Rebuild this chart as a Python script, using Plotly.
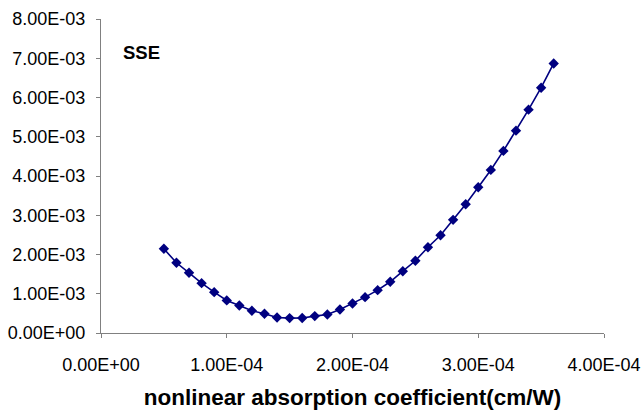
import plotly.graph_objects as go

# Nonlinear absorption coefficient (cm/W) and sum of squared errors
beta = [0.5e-4, 0.6e-4, 0.7e-4, 0.8e-4, 0.9e-4, 1.0e-4, 1.1e-4, 1.2e-4,
        1.3e-4, 1.4e-4, 1.5e-4, 1.6e-4, 1.7e-4, 1.8e-4, 1.9e-4, 2.0e-4,
        2.1e-4, 2.2e-4, 2.3e-4, 2.4e-4, 2.5e-4, 2.6e-4, 2.7e-4, 2.8e-4,
        2.9e-4, 3.0e-4, 3.1e-4, 3.2e-4, 3.3e-4, 3.4e-4, 3.5e-4, 3.6e-4]
sse = [2.145e-3, 1.789e-3, 1.534e-3, 1.270e-3, 1.041e-3, 0.830e-3, 0.702e-3, 0.567e-3,
       0.491e-3, 0.395e-3, 0.380e-3, 0.382e-3, 0.430e-3, 0.473e-3, 0.600e-3, 0.753e-3,
       0.913e-3, 1.092e-3, 1.305e-3, 1.575e-3, 1.840e-3, 2.186e-3, 2.491e-3, 2.883e-3,
       3.280e-3, 3.712e-3, 4.155e-3, 4.639e-3, 5.155e-3, 5.690e-3, 6.249e-3, 6.868e-3]

x_tick_vals = [0, 1e-4, 2e-4, 3e-4, 4e-4]
x_tick_text = ["0.00E+00", "1.00E-04", "2.00E-04", "3.00E-04", "4.00E-04"]
y_tick_vals = [0, 1e-3, 2e-3, 3e-3, 4e-3, 5e-3, 6e-3, 7e-3, 8e-3]
y_tick_text = ["0.00E+00", "1.00E-03", "2.00E-03", "3.00E-03", "4.00E-03",
               "5.00E-03", "6.00E-03", "7.00E-03", "8.00E-03"]

navy = "#000080"
axis_grey = "#808080"
font_family = "Liberation Sans, Arial, sans-serif"

fig = go.Figure(
    go.Scatter(
        x=beta, y=sse, mode="lines+markers",
        line=dict(color=navy, width=1.6),
        marker=dict(symbol="diamond", size=8, color=navy),
        showlegend=False,
    )
)

fig.update_layout(
    width=644, height=410,
    margin=dict(l=101, r=40, t=19, b=77),
    paper_bgcolor="white", plot_bgcolor="white",
    font=dict(family=font_family, color="black"),
    xaxis=dict(
        range=[0, 4e-4], tickvals=x_tick_vals, ticktext=x_tick_text,
        automargin=False,
        showgrid=False, zeroline=False, showline=True, linecolor=axis_grey, linewidth=1,
        ticks="outside", ticklen=4, tickcolor=axis_grey, tickwidth=1,
        tickfont=dict(size=18, family=font_family, color="black"),
        ticklabelstandoff=11,
        title=dict(text="<b>nonlinear absorption coefficient(cm/W)</b>",
                   font=dict(size=22.5, family=font_family, color="black"), standoff=16),
    ),
    yaxis=dict(
        range=[0, 8e-3], tickvals=y_tick_vals, ticktext=y_tick_text,
        automargin=False,
        showgrid=False, zeroline=False, showline=True, linecolor=axis_grey, linewidth=1,
        ticks="outside", ticklen=4, tickcolor=axis_grey, tickwidth=1,
        tickfont=dict(size=18, family=font_family, color="black"),
        ticklabelstandoff=7,
    ),
    annotations=[dict(
        text="<b>SSE</b>", xref="paper", yref="paper", x=0.039, y=0.893,
        xanchor="left", yanchor="middle", showarrow=False,
        font=dict(size=18.5, family=font_family, color="black"),
    )],
)

fig.write_html("out.html")
